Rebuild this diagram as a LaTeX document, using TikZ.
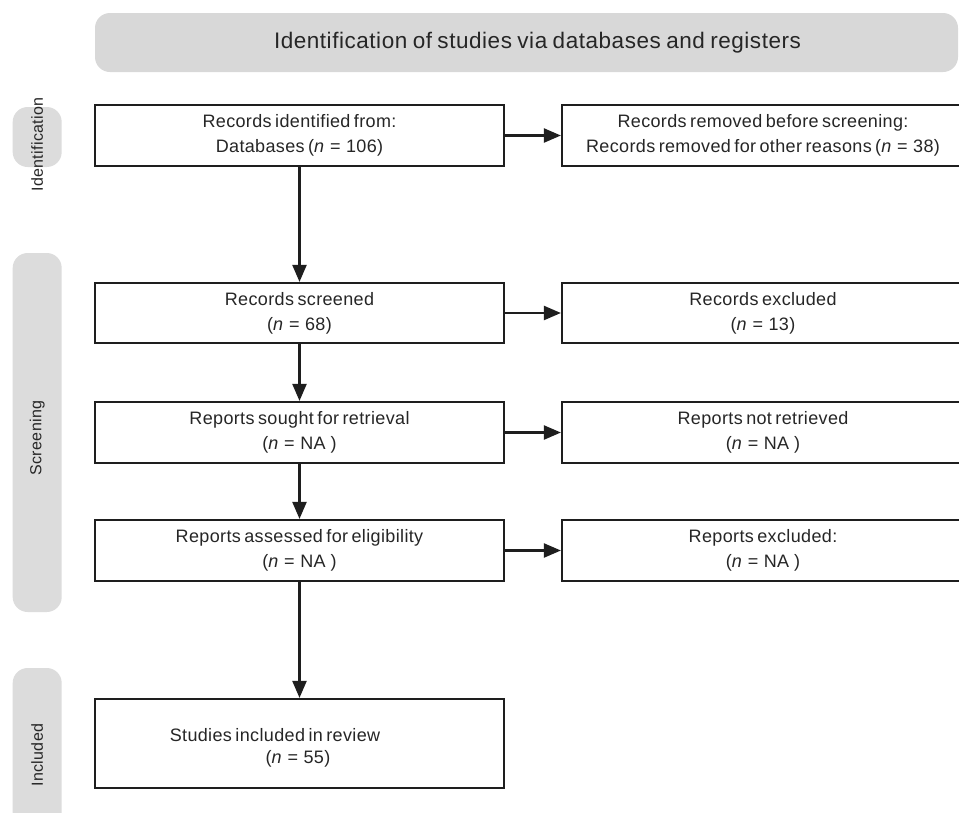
\documentclass[tikz,border=0pt]{standalone}
\usepackage{fontspec}
\setmainfont{Liberation Sans}
\newfontfamily\bodyfont[LetterSpace=2,WordSpace=0.65]{Liberation Sans}
\newfontfamily\titlefont[LetterSpace=2.4,WordSpace=0.8]{Liberation Sans}
\newcommand{\eqsp}{\hspace{5.5pt}=\hspace{5.5pt}}
\usetikzlibrary{arrows.meta}
\definecolor{band}{HTML}{D8D8D8}
\definecolor{pillgray}{HTML}{DCDCDC}
\definecolor{ink}{HTML}{1E1E1E}
\definecolor{txt}{HTML}{262626}
\begin{document}
\begin{tikzpicture}[x=1pt,y=-1pt,
  flowbox/.style={draw=ink, line width=2.2pt, fill=white, minimum width=409pt,
    minimum height=61pt, inner sep=0pt, align=center, text=txt,
    font=\bodyfont\fontsize{18}{25}\selectfont},
  sidebox/.style={flowbox, minimum width=402pt},
  bandbox/.style={fill=band, rounded corners=15pt, inner sep=0pt},
  titletext/.style={text=txt, inner sep=0pt, font=\titlefont\fontsize{22.5}{26}\selectfont},
  pill/.style={fill=pillgray, rounded corners=15pt, inner sep=0pt, minimum width=49pt},
  sidelabel/.style={rotate=90, text=txt, inner sep=0pt, font=\bodyfont\fontsize{16}{19}\selectfont},
  plainlabel/.style={text=txt, inner sep=0pt, font=\bodyfont\fontsize{18}{25}\selectfont},
  flowarrow/.style={draw=ink, line width=2.2pt, -{Triangle[length=17pt,width=14pt]}}
]
\useasboundingbox (0,0) rectangle (959,812);
\clip (0,0) rectangle (959,812);
\fill[white] (0,0) rectangle (959,812);

% banner
\node[bandbox, minimum width=863pt, minimum height=59pt] (band) at (526.5,42.5) {};
\node[titletext] (title) at (537.5,43)
  {Identification of studies via databases and registers};

% side pills
\node[pill, minimum height=60pt] (pid) at (37.2,137) {};
\node[sidelabel] (lid) at (37.2,144.5) {Identification};
\node[pill, minimum height=359pt] (pscr) at (37.2,432.5) {};
\node[sidelabel] (lscr) at (37.2,438) {Screening};
\node[pill, minimum height=162pt] (pinc) at (37.2,749) {};
\node[sidelabel] (linc) at (37.2,755) {Included};

% left column
\node[flowbox] (b1) at (299.5,135.5) {Records identified from:\\Databases (\textit{n}\eqsp106)};
\node[flowbox, minimum height=60pt] (b2) at (299.5,313) {Records screened\\(\textit{n}\eqsp68)};
\node[flowbox] (b3) at (299.5,432.5) {Reports sought for retrieval\\(\textit{n}\eqsp NA\hspace{5pt})};
\node[flowbox] (b4) at (299.5,550.5) {Reports assessed for eligibility\\(\textit{n}\eqsp NA\hspace{5pt})};
\node[flowbox, minimum height=89pt] (b5) at (299.5,743.5) {};
\node[plainlabel] (b5a) at (275,735) {Studies included in review};
\node[plainlabel] (b5b) at (298,759) {(\textit{n}\eqsp55)};

% right column
\node[sidebox] (r1) at (763,135.5) {Records removed before screening:\\Records removed for other reasons (\textit{n}\eqsp38)};
\node[sidebox, minimum height=60pt] (r2) at (763,313) {Records excluded\\(\textit{n}\eqsp13)};
\node[sidebox] (r3) at (763,432.5) {Reports not retrieved\\(\textit{n}\eqsp NA\hspace{5pt})};
\node[sidebox] (r4) at (763,550.5) {Reports excluded:\\(\textit{n}\eqsp NA\hspace{5pt})};

% connectors
\draw[flowarrow] (b1.south) -- (b2.north);
\draw[flowarrow] (b2.south) -- (b3.north);
\draw[flowarrow] (b3.south) -- (b4.north);
\draw[flowarrow] (b4.south) -- (b5.north);
\draw[flowarrow] (b1.east) -- (r1.west);
\draw[flowarrow] (b2.east) -- (r2.west);
\draw[flowarrow] (b3.east) -- (r3.west);
\draw[flowarrow] (b4.east) -- (r4.west);
\end{tikzpicture}
\end{document}
